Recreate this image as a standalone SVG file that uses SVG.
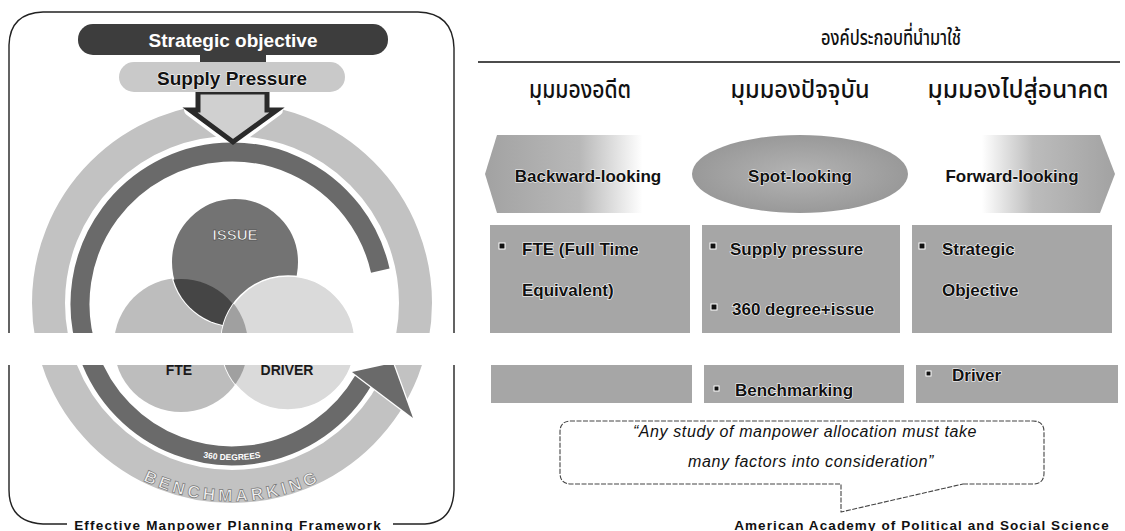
<svg xmlns="http://www.w3.org/2000/svg" width="1125" height="531" viewBox="0 0 1125 531">
<style>
.en{font-family:"Liberation Sans",Arial,sans-serif;font-weight:bold}
.th{font-family:"Noto Sans Thai","Loma","Garuda","Tlwg Typo","Norasi","Kinnari","Noto Sans","DejaVu Sans",sans-serif}
.box{fill:#a6a6a6}
.bt{font-family:"Liberation Sans",Arial,sans-serif;font-weight:bold;font-size:17px;fill:#111;stroke:#fff;stroke-width:1.2;paint-order:stroke}
.bul{fill:#111;stroke:#fff;stroke-width:1}
.frame{fill:none;stroke:#222;stroke-width:1.4}
</style>
<defs>
<linearGradient id="gBack" x1="0" y1="0" x2="1" y2="0">
<stop offset="0" stop-color="#a2a2a2"/><stop offset="0.45" stop-color="#b8b8b8"/><stop offset="0.75" stop-color="#ffffff"/><stop offset="1" stop-color="#ffffff"/>
</linearGradient>
<linearGradient id="gFwd" x1="0" y1="0" x2="1" y2="0">
<stop offset="0" stop-color="#ffffff"/><stop offset="0.35" stop-color="#ffffff"/><stop offset="0.6" stop-color="#bcbcbc"/><stop offset="1" stop-color="#a2a2a2"/>
</linearGradient>
<radialGradient id="gSpot" cx="0.5" cy="0.5" r="0.5">
<stop offset="0" stop-color="#b4b4b4"/><stop offset="1" stop-color="#999"/>
</radialGradient>
<clipPath id="cIssue"><circle cx="235" cy="262" r="64"/></clipPath>
<clipPath id="cDriver"><circle cx="288" cy="343" r="67"/></clipPath>
<path id="pBench" d="M 44.9 371.1 A 199.5 199.5 0 0 0 419.1 371.1"/>
<path id="pDeg" d="M 96.8 383 A 157 157 0 0 0 367.2 383"/>
</defs>

<!-- Left panel -->
<g id="frame">
<path class="frame" d="M 67 524 L 43 524 Q 9 522 9 490 L 9 45 Q 10 13 43 12 L 418 12 Q 453 13 454 48 L 454 490 Q 453 522 425 524 L 393 524"/>
</g>

<g id="ring">
<circle cx="232" cy="303" r="183.5" fill="none" stroke="#c2c2c2" stroke-width="33"/>
</g>

<g id="supply-arrow-halo">
<polygon points="198,92 267,92 267,110 277,110 233,142 190,110 198,110" fill="#fff" stroke="#fff" stroke-width="12" stroke-linejoin="round"/>
</g>

<g id="degrees-arc">
<path d="M 380.3 270.6 A 152 152 0 1 0 363.6 380" fill="none" stroke="#6a6a6a" stroke-width="19"/>
<polygon points="352,372 393,363 413,418" fill="#6a6a6a" stroke="#fff" stroke-width="2.5" paint-order="stroke" stroke-linejoin="round"/>
<text class="en" font-size="8.5" fill="#fff" text-anchor="middle"><textPath href="#pDeg" startOffset="50%">360 DEGREES</textPath></text>
</g>

<g id="benchmarking">
<text class="en" font-size="17" letter-spacing="3.6" fill="#f2f2f2" stroke="#777" stroke-width="0.7" text-anchor="middle"><textPath href="#pBench" startOffset="50%">BENCHMARKING</textPath></text>
</g>

<g id="fte">
<circle cx="181" cy="345" r="67" fill="#bdbdbd"/>
</g>
<g id="issue">
<circle cx="235" cy="262" r="64" fill="#737373" stroke="#fff" stroke-width="2"/>
<circle cx="181" cy="345" r="66" fill="#454545" clip-path="url(#cIssue)"/>
<text x="235" y="240" class="en" font-size="15" fill="#f4f4f4" stroke="#333" stroke-width="0.5" text-anchor="middle">ISSUE</text>
</g>
<g id="driver">
<circle cx="288" cy="343" r="67" fill="#dadada" stroke="#fff" stroke-width="1.5"/>
<circle cx="181" cy="345" r="67" fill="#a0a0a0" clip-path="url(#cDriver)"/>
</g>
<text x="179" y="375" class="en" font-size="14" fill="#1a1a1a" text-anchor="middle">FTE</text>
<text x="287" y="375" class="en" font-size="14" fill="#1a1a1a" text-anchor="middle">DRIVER</text>

<g id="supply-arrow">
<polygon points="198,92 267,92 267,110 277,110 233,142 190,110 198,110" fill="#d0d0d0" stroke="#2a2a2a" stroke-width="5" stroke-linejoin="miter"/>
</g>

<g id="strategic-objective">
<rect x="200" y="50" width="66" height="13" fill="#3d3d3d"/>
<rect x="78" y="24" width="310" height="31" rx="15" fill="#3d3d3d"/>
<text x="233" y="47" class="en" font-size="19" fill="#fff" text-anchor="middle">Strategic objective</text>
</g>
<g id="supply-pressure">
<rect x="119" y="62" width="226" height="30" rx="15" fill="#c9c9c9"/>
<text x="232" y="85" class="en" font-size="19" fill="#111" stroke="#fff" stroke-width="1" paint-order="stroke" text-anchor="middle">Supply Pressure</text>
</g>

<!-- scan gap -->
<rect x="0" y="333" width="468" height="32" fill="#fff"/>

<text x="228" y="530" class="en" font-size="13.5" letter-spacing="1.2" fill="#111" text-anchor="middle">Effective Manpower Planning Framework</text>

<!-- Right panel -->
<g id="title">
<text x="891" y="45" class="th" font-size="22" font-weight="500" textLength="140" lengthAdjust="spacingAndGlyphs" fill="#111" text-anchor="middle">องค์ประกอบที่นำมาใช้</text>
<line x1="478" y1="62" x2="1120" y2="62" stroke="#111" stroke-width="1.3"/>
</g>

<g id="col-past">
<text x="580" y="98" class="th" font-size="24" font-weight="500" textLength="102" lengthAdjust="spacingAndGlyphs" fill="#111" text-anchor="middle">มุมมองอดีต</text>
<polygon points="497,135 695,135 695,213 497,213 485,174" fill="url(#gBack)"/>
<text x="588" y="182" class="en" font-size="17" fill="#111" stroke="#fff" stroke-width="1" paint-order="stroke" text-anchor="middle">Backward-looking</text>
</g>
<g id="col-present">
<text x="800" y="98" class="th" font-size="24" font-weight="500" textLength="139" lengthAdjust="spacingAndGlyphs" fill="#111" text-anchor="middle">มุมมองปัจจุบัน</text>
<ellipse cx="800" cy="174" rx="108" ry="39" fill="url(#gSpot)"/>
<text x="800" y="182" class="en" font-size="17" fill="#111" stroke="#fff" stroke-width="1" paint-order="stroke" text-anchor="middle">Spot-looking</text>
</g>
<g id="col-future">
<text x="1018" y="98" class="th" font-size="24" font-weight="500" textLength="181" lengthAdjust="spacingAndGlyphs" fill="#111" text-anchor="middle">มุมมองไปสู่อนาคต</text>
<polygon points="910,135 1100,135 1115,174 1100,213 910,213" fill="url(#gFwd)"/>
<text x="1012" y="182" class="en" font-size="17" fill="#111" stroke="#fff" stroke-width="1" paint-order="stroke" text-anchor="middle">Forward-looking</text>
</g>

<g id="box-past-1">
<rect class="box" x="490" y="225" width="200" height="108"/>
<rect class="bul" x="499" y="243" width="6" height="6"/>
<text x="522" y="255" class="bt">FTE (Full Time</text>
<text x="522" y="296" class="bt">Equivalent)</text>
</g>
<g id="box-present-1">
<rect class="box" x="702" y="225" width="198" height="108"/>
<rect class="bul" x="710" y="243" width="6" height="6"/>
<text x="730" y="255" class="bt">Supply pressure</text>
<rect class="bul" x="711" y="304" width="6" height="6"/>
<text x="732" y="315" class="bt">360 degree+issue</text>
</g>
<g id="box-future-1">
<rect class="box" x="912" y="225" width="200" height="108"/>
<rect class="bul" x="919" y="243" width="6" height="6"/>
<text x="942" y="255" class="bt">Strategic</text>
<text x="942" y="296" class="bt">Objective</text>
</g>

<g id="box-past-2">
<rect class="box" x="491" y="365" width="201" height="38"/>
</g>
<g id="box-present-2">
<rect class="box" x="704" y="365" width="200" height="38"/>
<rect class="bul" x="714" y="386" width="5" height="5"/>
<text x="735" y="396" class="bt" font-size="16">Benchmarking</text>
</g>
<g id="box-future-2">
<rect class="box" x="916" y="365" width="202" height="38"/>
<rect class="bul" x="926" y="371" width="5" height="5"/>
<text x="952" y="381" class="bt" font-size="16">Driver</text>
</g>

<g id="quote">
<path d="M 963 484 L 1033 484 Q 1044 484 1044 473 L 1044 432 Q 1044 421 1033 421 L 571 421 Q 560 421 560 432 L 560 473 Q 560 484 571 484 L 841 484 L 841 512 Z" fill="#fff" stroke="#444" stroke-width="1.1" stroke-dasharray="5 1.5" stroke-linejoin="round"/>
<text x="805" y="437" font-family="Liberation Sans,Arial,sans-serif" font-style="italic" font-size="16" letter-spacing="0.6" fill="#111" text-anchor="middle">“Any study of manpower allocation must take</text>
<text x="811" y="467" font-family="Liberation Sans,Arial,sans-serif" font-style="italic" font-size="16" letter-spacing="0.6" fill="#111" text-anchor="middle">many factors into consideration”</text>
</g>
<text x="922" y="530" class="en" font-size="13.5" letter-spacing="1.1" fill="#111" text-anchor="middle">American Academy of Political and Social Science</text>
</svg>
